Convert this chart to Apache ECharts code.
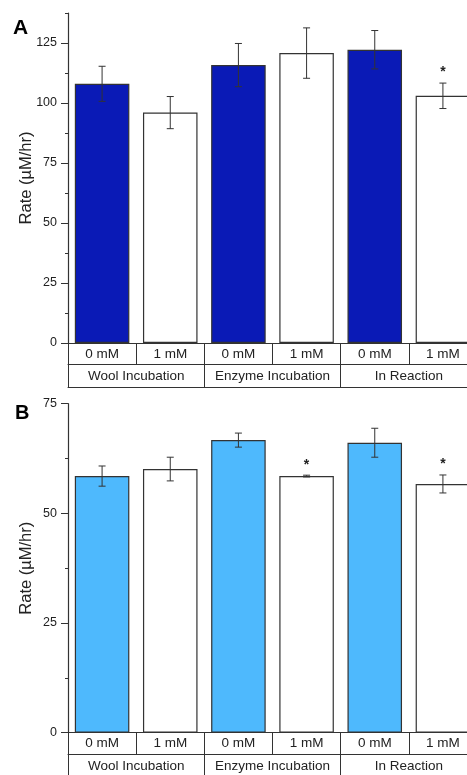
<!DOCTYPE html>
<html>
<head>
<meta charset="utf-8">
<script src="https://cdn.jsdelivr.net/npm/echarts@6/dist/echarts.min.js"></script>
<style>
html,body{margin:0;padding:0;background:#fff;overflow:hidden;width:467px;height:775px;}
#c{width:490px;height:775px;}
</style>
</head>
<body>
<div id="c"></div>
<script>
// ---- data ----
var categories = ['0 mM', '1 mM', '0 mM', '1 mM', '0 mM', '1 mM'];
var groups = ['Wool Incubation', 'Enzyme Incubation', 'In Reaction'];
var ratesA = [108, 96, 115.8, 120.8, 122.2, 103];
var errA = [7.3, 6.7, 9, 10.5, 8, 5.3];
var sigA = [0, 0, 0, 0, 0, 1];
var ratesB = [58.5, 60.1, 66.7, 58.5, 66.1, 56.7];
var errB = [2.3, 2.7, 1.6, 0.2, 3.3, 2.05];
var sigB = [0, 0, 0, 1, 0, 1];
var majorTicksA = [0, 25, 50, 75, 100, 125];
var minorTicksA = [12.5, 37.5, 62.5, 87.5, 112.5, 137.5];
var majorTicksB = [0, 25, 50, 75];
var minorTicksB = [12.5, 37.5, 62.5];

var FONT = 'Liberation Sans, Arial, sans-serif';
var INK = '#222';
var LINE = '#333';

function barData(vals, color) {
  return vals.map(function (v, i) {
    return { value: v, itemStyle: { color: i % 2 === 0 ? color : '#ffffff' } };
  });
}
function errData(vals, errs, sig) {
  return vals.map(function (v, i) { return [i, v, errs[i], sig[i]]; });
}
function renderErr(params, api) {
  var x = api.value(0), v = api.value(1), e = api.value(2), s = api.value(3);
  var top = api.coord([x, v + e]);
  var bot = api.coord([x, v - e]);
  var cap = 3.5;
  var st = { stroke: LINE, lineWidth: 1 };
  var children = [
    { type: 'line', shape: { x1: top[0], y1: top[1], x2: bot[0], y2: bot[1] }, style: st },
    { type: 'line', shape: { x1: top[0] - cap, y1: top[1], x2: top[0] + cap, y2: top[1] }, style: st },
    { type: 'line', shape: { x1: bot[0] - cap, y1: bot[1], x2: bot[0] + cap, y2: bot[1] }, style: st }
  ];
  if (s) {
    children.push({
      type: 'text',
      style: { text: '*', x: top[0], y: top[1] - 10.5, align: 'center', verticalAlign: 'middle',
        fill: INK, font: 'bold 14px ' + FONT }
    });
  }
  return { type: 'group', children: children };
}

function xAxesFor(gi) {
  return [
    { type: 'category', gridIndex: gi, data: categories, position: 'bottom',
      axisLine: { show: true, onZero: false, lineStyle: { color: LINE, width: 1.2 } },
      axisTick: { show: true, inside: false, length: 21.5, interval: 0, lineStyle: { color: LINE, width: 1 } },
      axisLabel: { show: true, interval: 0, margin: 4, fontSize: 13.5, color: INK, fontFamily: FONT },
      splitLine: { show: false } },
    { type: 'category', gridIndex: gi, data: groups, position: 'bottom', offset: 21.5,
      axisLine: { show: true, onZero: false, lineStyle: { color: LINE, width: 1 } },
      axisTick: { show: true, inside: false, length: 22.5, interval: 0, lineStyle: { color: LINE, width: 1 } },
      axisLabel: { show: true, interval: 0, margin: 5, fontSize: 13.5, color: INK, fontFamily: FONT },
      splitLine: { show: false } },
    { type: 'category', gridIndex: gi, data: groups, position: 'bottom', offset: 44,
      axisLine: { show: true, onZero: false, lineStyle: { color: LINE, width: 1 } },
      axisTick: { show: false }, axisLabel: { show: false }, splitLine: { show: false } }
  ];
}
function yAxesFor(gi, max, major, minor) {
  return [
    { type: 'value', gridIndex: gi, min: 0, max: max, interval: 12.5, position: 'left',
      name: 'Rate (\u00b5M/hr)', nameLocation: 'middle', nameGap: 33, nameMoveOverlap: false,
      nameTextStyle: { fontSize: 16.5, color: INK, fontFamily: FONT },
      axisLine: { show: true, onZero: false, lineStyle: { color: LINE, width: 1.2 } },
      axisTick: { show: true, length: 7, customValues: major, lineStyle: { color: LINE, width: 1 } },
      axisLabel: { show: true, margin: 11, fontSize: 12.5, color: INK, fontFamily: FONT, customValues: major },
      splitLine: { show: false } },
    { type: 'value', gridIndex: gi, min: 0, max: max, interval: 12.5, position: 'left', offset: 0,
      axisLine: { show: false },
      axisTick: { show: true, length: 3, customValues: minor, lineStyle: { color: LINE, width: 1 } },
      axisLabel: { show: false }, splitLine: { show: false } }
  ];
}

var chart = echarts.init(document.getElementById('c'), null, { renderer: 'canvas' });
var option = {
  animation: false,
  backgroundColor: '#ffffff',
  grid: [
    { left: 68, top: 13, width: 409, height: 330 },
    { left: 68, top: 403.7, width: 409, height: 329 }
  ],
  xAxis: xAxesFor(0).concat(xAxesFor(1)),
  yAxis: yAxesFor(0, 137.5, majorTicksA, minorTicksA).concat(yAxesFor(1, 75, majorTicksB, minorTicksB)),
  graphic: [
    { type: 'text', left: 13, top: 18, style: { text: 'A', font: 'bold 21px ' + FONT, fill: '#000' } },
    { type: 'text', left: 15, top: 403, style: { text: 'B', font: 'bold 20px ' + FONT, fill: '#000' } }
  ],
  series: [
    { type: 'bar', xAxisIndex: 0, yAxisIndex: 0, barWidth: '80%', data: barData(ratesA, '#0a1ab6'),
      itemStyle: { borderColor: LINE, borderWidth: 1.2 } },
    { type: 'custom', xAxisIndex: 0, yAxisIndex: 0, renderItem: renderErr,
      data: errData(ratesA, errA, sigA), encode: { x: 0, y: 1 }, z: 5 },
    { type: 'bar', xAxisIndex: 3, yAxisIndex: 2, barWidth: '80%', data: barData(ratesB, '#4eb9fd'),
      itemStyle: { borderColor: LINE, borderWidth: 1.2 } },
    { type: 'custom', xAxisIndex: 3, yAxisIndex: 2, renderItem: renderErr,
      data: errData(ratesB, errB, sigB), encode: { x: 0, y: 1 }, z: 5 }
  ]
};
chart.setOption(option);
</script>
</body>
</html>
